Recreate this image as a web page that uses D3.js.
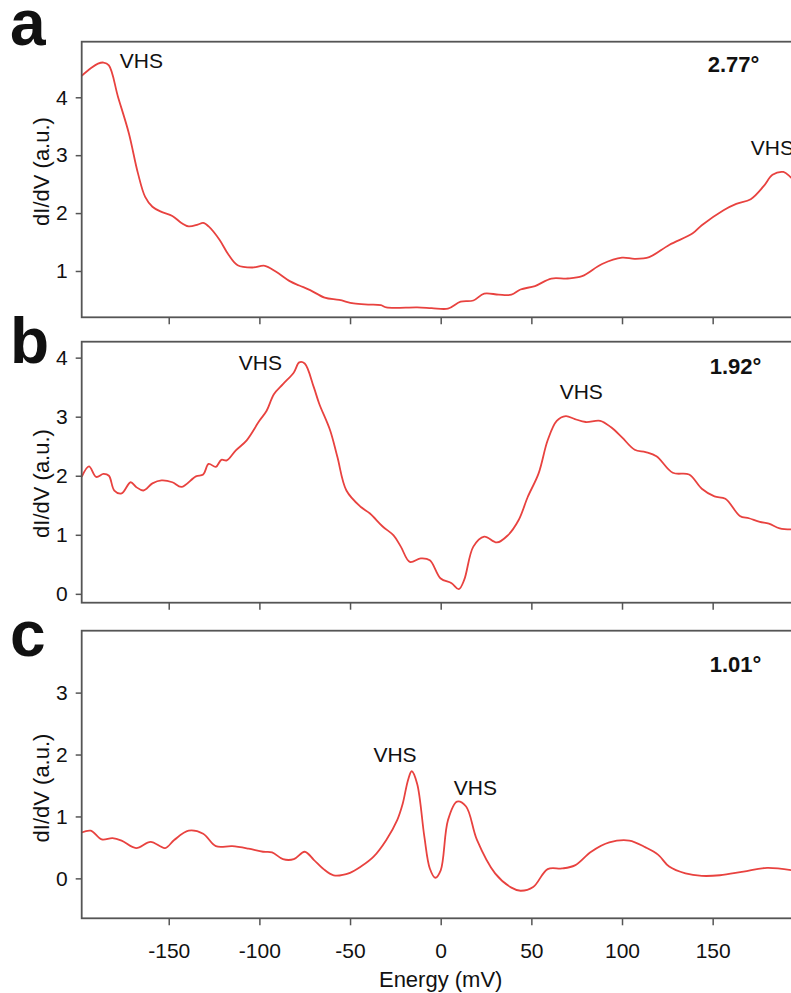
<!DOCTYPE html>
<html><head><meta charset="utf-8">
<script src="https://cdn.jsdelivr.net/npm/d3@7/dist/d3.min.js"></script>
<style>
html,body{margin:0;padding:0;background:#fff;}
svg{display:block;font-family:"Liberation Sans",Arial,Helvetica,sans-serif;}
</style></head>
<body>
<svg id="chart" width="791" height="993"></svg>
<script>
// ---- Data (energy in mV, dI/dV in a.u.) ----
const energyA = [-198,-193,-189,-186,-183,-178,-172,-167,-163,-159,-154,-148,-143,-139,-134,-131,-128,-122,-117,-112,-104,-97,-91,-83,-78,-72,-64,-56,-48,-40,-33,-30,-13,-5,4,11,18,24,32,39,44,52,61,70,78,89,100,107,115,126,139,144,156,163,171,178,183,189,193,196];
const didvA   = [4.37,4.5,4.58,4.6,4.55,4.01,3.38,2.69,2.28,2.11,2.02,1.95,1.83,1.77,1.8,1.83,1.77,1.54,1.28,1.1,1.06,1.09,0.99,0.82,0.75,0.67,0.54,0.5,0.44,0.42,0.41,0.37,0.37,0.36,0.35,0.47,0.49,0.61,0.59,0.59,0.68,0.74,0.87,0.87,0.91,1.12,1.23,1.21,1.24,1.45,1.65,1.79,2.05,2.16,2.24,2.46,2.66,2.71,2.62,2.54];

const energyB = [-198,-194,-190,-186,-183,-180,-176,-171,-168,-164,-159,-154,-148,-143,-135,-131,-128,-124,-121,-118,-113,-107,-100,-96,-92,-87,-81,-78,-75,-70,-67,-61,-57,-52,-44,-39,-32,-26,-22,-17,-11,-6,0,6,10,13,18,24,31,37,43,48,54,59,64,69,74,80,88,94,100,107,113,119,128,137,144,151,157,165,170,176,181,187,196];
const didvB   = [1.98,2.16,1.98,2.03,2.0,1.75,1.7,1.89,1.81,1.75,1.87,1.92,1.89,1.81,1.99,2.02,2.2,2.15,2.27,2.26,2.43,2.6,2.93,3.1,3.38,3.55,3.75,3.92,3.9,3.5,3.22,2.77,2.32,1.75,1.47,1.36,1.14,0.99,0.8,0.54,0.6,0.57,0.26,0.18,0.08,0.24,0.8,0.97,0.87,0.99,1.25,1.64,2.04,2.6,2.93,3.01,2.96,2.91,2.93,2.82,2.65,2.44,2.4,2.33,2.05,2.02,1.78,1.65,1.61,1.32,1.28,1.22,1.19,1.11,1.09];

const energyC = [-198,-193,-187,-181,-176,-168,-160,-152,-147,-139,-131,-124,-115,-106,-98,-93,-87,-81,-75,-70,-65,-59,-50,-44,-37,-30,-24,-21,-18,-16,-13,-9,-6,-3,0,4,9,14,20,30,39,44,51,59,67,74,83,93,104,113,120,126,135,144,154,167,180,196];
const didvC   = [0.74,0.77,0.63,0.65,0.61,0.49,0.59,0.49,0.62,0.77,0.72,0.52,0.52,0.48,0.43,0.42,0.31,0.31,0.43,0.3,0.16,0.05,0.09,0.19,0.35,0.62,0.94,1.2,1.59,1.73,1.53,0.67,0.16,0.01,0.13,0.94,1.24,1.16,0.62,0.08,-0.15,-0.2,-0.14,0.15,0.16,0.21,0.43,0.58,0.61,0.5,0.38,0.19,0.08,0.04,0.05,0.11,0.17,0.12];

const xTicks = [-150,-100,-50,0,50,100,150];
const yTicksA = [1,2,3,4];
const yTicksB = [0,1,2,3,4];
const yTicksC = [0,1,2,3];
const panelLetters = ["a","b","c"];
const twistAngles = ["2.77°","1.92°","1.01°"];
const xLabel = "Energy (mV)";
const yLabel = "dI/dV (a.u.)";
// annotations: [energy, dI/dV] anchor (left/baseline)
const vhsA = [[-177,4.51],[171,3.0]];
const vhsB = [[-111.4,3.79],[65.6,3.3]];
const vhsC = [[-37.1,1.885],[7.2,1.347]];
const angleAnchor = [[147.3,4.43],[148.4,3.72],[148.4,3.339]];

// ---- Layout ----
const svg = d3.select("#chart");
const x = d3.scaleLinear().domain([-198,198]).range([81.7,799.7]);
const panels = [
  {e:energyA, v:didvA, yd:[0.2,4.96], top:41.7, bottom:317.3, ticks:yTicksA, vhs:vhsA, ylabY:171.5, letterY:45},
  {e:energyB, v:didvB, yd:[-0.15,4.27], top:341.7, bottom:602.7, ticks:yTicksB, vhs:vhsB, ylabY:483.5, letterY:363},
  {e:energyC, v:didvC, yd:[-0.645,4.0], top:630.7, bottom:918.3, ticks:yTicksC, vhs:vhsC, ylabY:788, letterY:656}
];
const frameColor = "#555";
const lineColor = "#e8423f";
const fmt = d => String(d);

panels.forEach((p,i)=>{
  const y = d3.scaleLinear().domain(p.yd).range([p.bottom,p.top]);
  const g = svg.append("g");

  // clip
  const cid = "clip"+i;
  svg.append("clipPath").attr("id",cid).append("rect")
    .attr("x",x.range()[0]).attr("y",p.top).attr("width",x.range()[1]-x.range()[0]).attr("height",p.bottom-p.top);

  // curve
  const data = p.e.map((e,k)=>[e,p.v[k]]);
  g.append("path").datum(data)
    .attr("clip-path","url(#"+cid+")")
    .attr("fill","none").attr("stroke",lineColor).attr("stroke-width",1.8)
    .attr("stroke-linejoin","round")
    .attr("d", d3.line().x(d=>x(d[0])).y(d=>y(d[1])).curve(d3.curveCatmullRom.alpha(0.5)));

  // frame
  g.append("rect").attr("x",x.range()[0]).attr("y",p.top)
    .attr("width",x.range()[1]-x.range()[0]+4).attr("height",p.bottom-p.top)
    .attr("fill","none").attr("stroke",frameColor).attr("stroke-width",1.8);

  // y axis
  const ya = g.append("g").attr("transform","translate("+x.range()[0]+",0)")
    .call(d3.axisLeft(y).tickValues(p.ticks).tickSize(6).tickPadding(8).tickFormat(fmt));
  ya.select(".domain").remove();
  ya.selectAll(".tick line").attr("stroke",frameColor).attr("stroke-width",1.5);
  ya.selectAll(".tick text").attr("font-size",21).attr("fill","#111")
    .attr("font-family","'Liberation Sans',Arial,sans-serif");

  // x axis
  const xa = g.append("g").attr("transform","translate(0,"+p.bottom+")")
    .call(d3.axisBottom(x).tickValues(xTicks).tickSize(7).tickPadding(18).tickFormat(fmt));
  xa.select(".domain").remove();
  xa.selectAll(".tick line").attr("stroke",frameColor).attr("stroke-width",1.5);
  if(i<2){ xa.selectAll(".tick text").remove(); }
  else {
    xa.selectAll(".tick text").attr("font-size",21).attr("fill","#111")
      .attr("font-family","'Liberation Sans',Arial,sans-serif");
  }

  // y label
  g.append("text").attr("transform","translate(49,"+p.ylabY+") rotate(-90)")
    .attr("text-anchor","middle").attr("font-size",22).attr("fill","#111").text(yLabel);

  // panel letter
  g.append("text").attr("x",10).attr("y",p.letterY).attr("font-size",64)
    .attr("font-weight","bold").attr("fill","#111").text(panelLetters[i]);

  // VHS annotations
  p.vhs.forEach(a=>{
    g.append("text").attr("x",x(a[0])).attr("y",y(a[1])).attr("font-size",21)
      .attr("fill","#111").text("VHS");
  });

  // angle
  g.append("text").attr("x",x(angleAnchor[i][0])).attr("y",y(angleAnchor[i][1]))
    .attr("font-size",22).attr("font-weight","bold").attr("fill","#111").text(twistAngles[i]);
});

// x label
svg.append("text").attr("x",x(0)).attr("y",987).attr("text-anchor","middle")
  .attr("font-size",22).attr("fill","#111").text(xLabel);
</script>
</body></html>
